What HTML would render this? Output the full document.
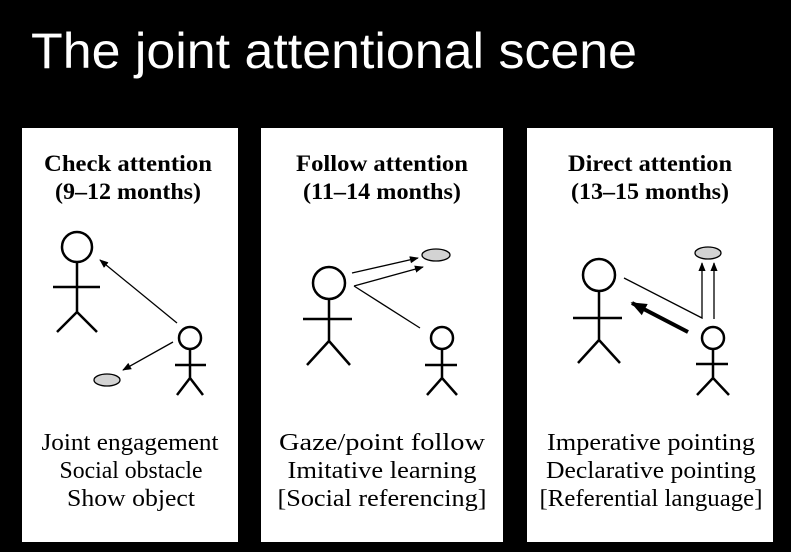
<!DOCTYPE html>
<html><head><meta charset="utf-8"><style>
html,body{margin:0;padding:0;background:#000;}
svg{display:block;}
</style></head><body>
<svg width="791" height="552" viewBox="0 0 791 552" xmlns="http://www.w3.org/2000/svg">
<defs>
<marker id="a" viewBox="0 0 10 10" refX="9" refY="5" markerWidth="9" markerHeight="9" markerUnits="userSpaceOnUse" orient="auto"><path d="M0,1 L10,5 L0,9 Z" fill="#000"/></marker>
<marker id="b" viewBox="0 0 10 10" refX="9" refY="5" markerWidth="16" markerHeight="16" markerUnits="userSpaceOnUse" orient="auto"><path d="M0,1 L10,5 L0,9 Z" fill="#000"/></marker>
</defs>
<rect width="791" height="552" fill="#000"/>
<text x="31" y="68" fill="#fff" font-family="Liberation Sans, sans-serif" font-size="50" textLength="606" lengthAdjust="spacingAndGlyphs">The joint attentional scene</text>
<rect x="22" y="128" width="216" height="414" fill="#fff"/>
<rect x="261" y="128" width="242" height="414" fill="#fff"/>
<rect x="527" y="128" width="246" height="414" fill="#fff"/>
<g font-family="Liberation Serif, serif" fill="#000" text-anchor="middle">
<g font-weight="bold" font-size="23">
<text x="128" y="171" textLength="168" lengthAdjust="spacingAndGlyphs">Check attention</text>
<text x="128" y="199" textLength="146" lengthAdjust="spacingAndGlyphs">(9–12 months)</text>
<text x="382" y="171" textLength="172" lengthAdjust="spacingAndGlyphs">Follow attention</text>
<text x="382" y="199" textLength="158" lengthAdjust="spacingAndGlyphs">(11–14 months)</text>
<text x="650" y="171" textLength="164" lengthAdjust="spacingAndGlyphs">Direct attention</text>
<text x="650" y="199" textLength="158" lengthAdjust="spacingAndGlyphs">(13–15 months)</text>
</g>
<g font-size="24">
<text x="130" y="450" textLength="177" lengthAdjust="spacingAndGlyphs">Joint engagement</text>
<text x="131" y="478" textLength="143" lengthAdjust="spacingAndGlyphs">Social obstacle</text>
<text x="131" y="506" textLength="128" lengthAdjust="spacingAndGlyphs">Show object</text>
<text x="382" y="450" textLength="206" lengthAdjust="spacingAndGlyphs">Gaze/point follow</text>
<text x="382" y="478" textLength="189" lengthAdjust="spacingAndGlyphs">Imitative learning</text>
<text x="382" y="506" textLength="209" lengthAdjust="spacingAndGlyphs">[Social referencing]</text>
<text x="651" y="450" textLength="208" lengthAdjust="spacingAndGlyphs">Imperative pointing</text>
<text x="651" y="478" textLength="210" lengthAdjust="spacingAndGlyphs">Declarative pointing</text>
<text x="651" y="506" textLength="223" lengthAdjust="spacingAndGlyphs">[Referential language]</text>
</g>
</g>
<g stroke="#000" fill="none" stroke-width="2.5">
<circle cx="77" cy="247" r="15"/>
<path d="M77 262V312M53 287H100M77 312L57 332M77 312L97 332"/>
<circle cx="190" cy="338" r="11"/>
<path d="M190 349V380M175 365H206M190 378L177 395M190 378L203 395"/>
<circle cx="329" cy="283" r="16"/>
<path d="M329 299V343M303 319H352M329 341L307 365M329 341L350 365"/>
<circle cx="442" cy="338" r="11"/>
<path d="M442 349V380M425 365H457M442 378L427 395M442 378L457 395"/>
<circle cx="599" cy="275" r="16"/>
<path d="M599 291V342M573 318H622M599 340L578 363M599 340L620 363"/>
<circle cx="713" cy="338" r="11"/>
<path d="M713 349V380M696 364H728M713 378L697 395M713 378L729 395"/>
</g>
<g fill="#d3d3d3" stroke="#000" stroke-width="1.3">
<ellipse cx="107" cy="380" rx="13" ry="6"/>
<ellipse cx="436" cy="255" rx="14" ry="6"/>
<ellipse cx="708" cy="253" rx="13" ry="6"/>
</g>
<g stroke="#000" stroke-width="1.3" fill="none">
<line x1="177" y1="323" x2="100" y2="260" marker-end="url(#a)"/>
<line x1="173" y1="342" x2="123" y2="370" marker-end="url(#a)"/>
<line x1="352" y1="273" x2="418" y2="258" marker-end="url(#a)"/>
<line x1="354" y1="286" x2="423" y2="267" marker-end="url(#a)"/>
<line x1="354" y1="286" x2="420" y2="328"/>
<path d="M624 278L702 318V263" marker-end="url(#a)"/>
<line x1="714" y1="319" x2="714" y2="263" marker-end="url(#a)"/>
</g>
<line x1="688" y1="332" x2="632" y2="303" stroke="#000" stroke-width="4" marker-end="url(#b)"/>
</svg>
</body></html>
